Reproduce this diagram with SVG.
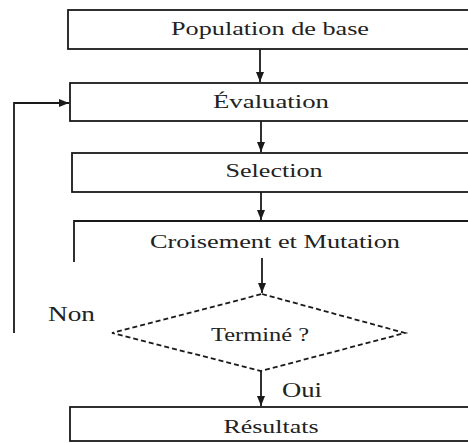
<svg xmlns="http://www.w3.org/2000/svg" width="468" height="443" viewBox="0 0 468 443">
  <style>
    .box { fill: #ffffff; stroke: #1a1a1a; stroke-width: 1.8; }
    .edge { fill: none; stroke: #1a1a1a; stroke-width: 1.8; }
    .dec { fill: #ffffff; stroke: #1a1a1a; stroke-width: 1.8; stroke-dasharray: 5 3; }
    text { font-family: 'Liberation Serif', 'DejaVu Serif', serif; font-size: 18px; fill: #222222; }
    .lbl { text-anchor: middle; }
    .tag { font-size: 20px; }
  </style>
  <defs>
    <marker id="arrow" viewBox="0 0 10 10" refX="10" refY="5" markerWidth="10" markerHeight="10" orient="auto" markerUnits="userSpaceOnUse">
      <path d="M0,1 L10,5 L0,9 z" fill="#1a1a1a"/>
    </marker>
  </defs>
  <rect width="468" height="443" fill="#ffffff"/>

  <!-- flow connectors -->
  <g id="connectors">
    <line class="edge" x1="260" y1="49" x2="260" y2="82" marker-end="url(#arrow)"/>
    <line class="edge" x1="261" y1="121" x2="261" y2="152" marker-end="url(#arrow)"/>
    <line class="edge" x1="261" y1="192" x2="261" y2="220" marker-end="url(#arrow)"/>
    <line class="edge" x1="262" y1="258" x2="262" y2="293" marker-end="url(#arrow)"/>
    <line class="edge" x1="261" y1="371" x2="261" y2="406" marker-end="url(#arrow)"/>
    <polyline class="edge" points="14,333 14,103 69,103" marker-end="url(#arrow)"/>
  </g>

  <g id="population">
    <rect class="box" x="68" y="10" width="410" height="39"/>
    <text class="lbl" x="270" y="35" textLength="198" lengthAdjust="spacingAndGlyphs">Population de base</text>
  </g>

  <g id="evaluation">
    <rect class="box" x="70" y="83" width="410" height="38"/>
    <text class="lbl" x="271" y="108" textLength="116" lengthAdjust="spacingAndGlyphs">Évaluation</text>
  </g>

  <g id="selection">
    <rect class="box" x="72" y="153" width="410" height="39"/>
    <text class="lbl" x="274" y="177" textLength="97" lengthAdjust="spacingAndGlyphs">Selection</text>
  </g>

  <g id="croisement">
    <polyline class="edge" points="74,262 74,221 470,221"/>
    <text class="lbl" x="275" y="248" textLength="250" lengthAdjust="spacingAndGlyphs">Croisement et Mutation</text>
  </g>

  <g id="termine">
    <polygon class="dec" points="262,294 405,333 261,371 112,333"/>
    <text class="lbl" x="260" y="341" textLength="98" lengthAdjust="spacingAndGlyphs">Terminé ?</text>
  </g>

  <g id="labels">
    <text class="tag" x="48" y="321" textLength="47" lengthAdjust="spacingAndGlyphs">Non</text>
    <text class="tag" x="282" y="397" textLength="40" lengthAdjust="spacingAndGlyphs">Oui</text>
  </g>

  <g id="resultats">
    <rect class="box" x="70" y="407" width="410" height="34"/>
    <text class="lbl" x="271" y="433" textLength="95" lengthAdjust="spacingAndGlyphs">Résultats</text>
  </g>
</svg>
